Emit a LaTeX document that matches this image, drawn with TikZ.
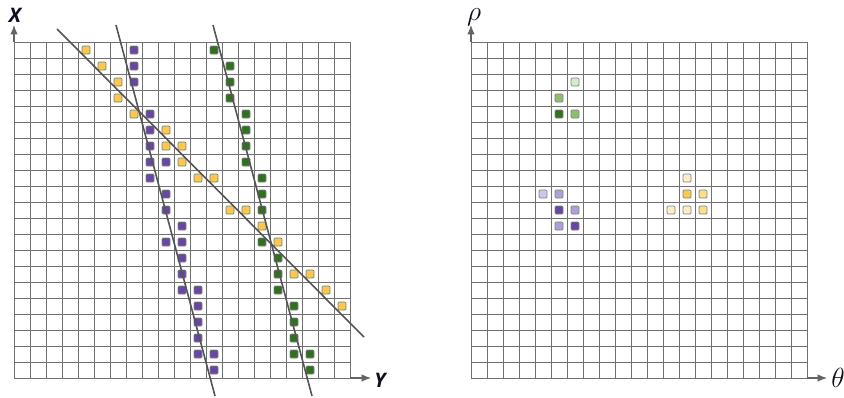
\documentclass[tikz,border=0pt]{standalone}
\usepackage{fontspec}
\usetikzlibrary{arrows.meta}
\newfontfamily\axfont{Open Sans}
\definecolor{gridgray}{RGB}{112,112,112}
\definecolor{axgray}{RGB}{100,100,100}
\definecolor{fitline}{RGB}{85,85,85}
\definecolor{sqborder}{RGB}{130,130,130}
\definecolor{yel}{RGB}{248,200,80}
\definecolor{yelB}{RGB}{250,222,140}
\definecolor{yelC}{RGB}{252,236,200}
\definecolor{pur}{RGB}{102,72,160}
\definecolor{purB}{RGB}{172,160,212}
\definecolor{purC}{RGB}{205,198,232}
\definecolor{grn}{RGB}{48,112,32}
\definecolor{grnB}{RGB}{140,192,112}
\definecolor{grnC}{RGB}{212,236,202}
\definecolor{labcol}{RGB}{15,15,30}
\newcommand\cellL[3]{\filldraw[sqstyle,fill=#1] ({22+16*#2-4},{50+16*#3-4}) rectangle ({22+16*#2+4},{50+16*#3+4});}
\newcommand\cellR[3]{\filldraw[sqstyle,fill=#1] ({479+16*#2-4},{50+16*#3-4}) rectangle ({479+16*#2+4},{50+16*#3+4});}
\begin{document}
\begin{tikzpicture}[x=0.75pt,y=-0.75pt,
  gridline/.style={draw=gridgray,line width=0.75pt},
  sqstyle/.style={draw=sqborder,line width=0.6pt,rounded corners=0.8pt},
  axisline/.style={draw=axgray,line width=0.8pt,-{Latex[length=7pt,width=5.5pt]}},
  fit/.style={draw=fitline,line width=1.2pt},
  axlab/.style={inner sep=0pt,font=\axfont\bfseries\itshape\fontsize{15}{17}\selectfont,text=labcol},
  greeklab/.style={inner sep=0pt,font=\fontsize{20}{24}\selectfont,text=labcol}]
\useasboundingbox (0,0) rectangle (844,397);
% grids
\foreach \i in {0,...,21} {
  \draw[gridline] ({14+16*\i},42) -- ({14+16*\i},378);
  \draw[gridline] (14,{42+16*\i}) -- (350,{42+16*\i});
  \draw[gridline] ({471+16*\i},42) -- ({471+16*\i},378);
  \draw[gridline] (471,{42+16*\i}) -- (807,{42+16*\i});
}
% axes
\coordinate (ltop) at (14,25);
\coordinate (lright) at (371,378);
\coordinate (rtop) at (471,25);
\coordinate (rright) at (827,378);
\draw[axisline] (14,42) -- (ltop);
\draw[axisline] (350,378) -- (lright);
\draw[axisline] (471,42) -- (rtop);
\draw[axisline] (807,378) -- (rright);
\node[axlab] (labX) at (15,15) {X};
\node[axlab] (labY) at (380,380) {Y};
\node[greeklab] (labrho) at (474,17) {$\rho$};
\node[greeklab] (labtheta) at (838,378) {$\theta$};
% left squares: yellow
\foreach \c/\r in {4/0,5/1,6/2,6/3,7/4,9/5,9/6,10/6,10/7,11/8,12/8,13/10,14/10,15/11,16/12,17/14,18/14,19/15,20/16}
  {\cellL{yel}{\c}{\r}}
% left squares: purple
\foreach \c/\r in {7/0,7/1,7/2,8/4,8/5,8/6,8/7,9/7,8/8,9/9,9/10,10/11,9/12,10/12,10/13,10/14,10/15,11/15,11/16,11/17,11/18,11/19,12/19,12/20}
  {\cellL{pur}{\c}{\r}}
% left squares: green
\foreach \c/\r in {12/0,13/1,13/2,13/3,14/4,14/5,14/6,14/7,15/8,15/9,15/10,15/12,16/13,16/14,16/15,17/16,17/17,17/18,17/19,18/19,18/20}
  {\cellL{grn}{\c}{\r}}
% fitted lines
\draw[fit] (57,29) -- (364,337);
\draw[fit] (116,25) -- (215,396);
\draw[fit] (213,25) -- (312,396);
% right squares
\cellR{grnC}{6}{2}
\cellR{grnB}{5}{3}
\cellR{grn}{5}{4}
\cellR{grnB}{6}{4}
\cellR{purC}{4}{9}
\cellR{purB}{5}{9}
\cellR{pur}{5}{10}
\cellR{purB}{6}{10}
\cellR{purB}{5}{11}
\cellR{pur}{6}{11}
\cellR{yelC}{13}{8}
\cellR{yel}{13}{9}
\cellR{yelB}{14}{9}
\cellR{yelC}{12}{10}
\cellR{yelC}{13}{10}
\cellR{yelB}{14}{10}
\end{tikzpicture}
\end{document}
